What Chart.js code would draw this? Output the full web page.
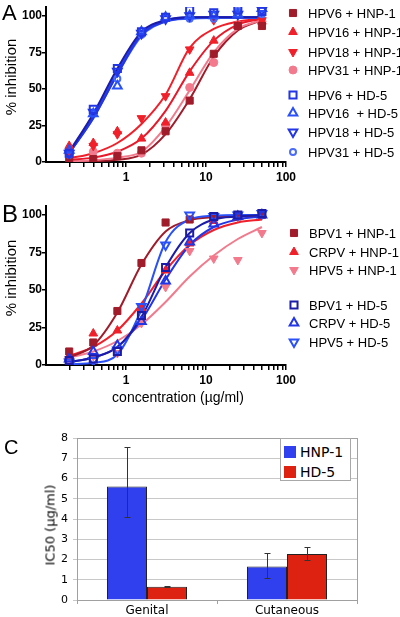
<!DOCTYPE html>
<html>
<head>
<meta charset="utf-8">
<script src="https://cdn.jsdelivr.net/npm/chart.js@4.4.1/dist/chart.umd.min.js"></script>
<style>
body { margin: 0; background: #fff; width: 400px; height: 617px; overflow: hidden; position: relative; font-family: "Liberation Sans", Arial, sans-serif; color: #000; }
canvas.panel { position: absolute; left: 0; }
.letter { position: absolute; line-height: 1; }
.rot { position: absolute; transform: translate(-50%, -50%) rotate(-90deg); white-space: nowrap; line-height: 1; }
.leg { position: absolute; display: flex; align-items: center; white-space: pre; font-size: 13px; line-height: 1; }
</style>
</head>
<body>
<canvas id="chartA" class="panel" width="400" height="195" style="top:0px"></canvas>
<canvas id="chartB" class="panel" width="400" height="215" style="top:195px"></canvas>
<canvas id="chartC" class="panel" width="400" height="197" style="top:420px"></canvas>

<div class="letter" style="left:2px;top:2px;font-size:22px">A</div>
<div class="letter" style="left:2px;top:202px;font-size:24px">B</div>
<div class="letter" style="left:4px;top:437px;font-size:20px">C</div>

<div class="rot" style="left:10px;top:77px;font-size:15px">% inhibition</div>
<div class="rot" style="left:10px;top:278px;font-size:15px">% inhibition</div>
<div class="rot" style="left:50px;top:525px;font-size:13px;font-family:'DejaVu Sans',Verdana,sans-serif">IC50 (µg/ml)</div>
<div style="position:absolute;left:178px;top:397px;transform:translate(-50%,-50%);font-size:14px;line-height:1;white-space:nowrap">concentration (µg/ml)</div>

<script>
// doubling dilutions (µg/ml)
const conc = [0.195, 0.39, 0.78, 1.56, 3.125, 6.25, 12.5, 25, 50];
const xTickVals = [0.2, 0.3, 0.4, 0.5, 0.6, 0.7, 0.8, 0.9, 1, 2, 3, 4, 5, 6, 7, 8, 9, 10, 20, 30, 40, 50, 60, 70, 80, 90, 100];
const xTickLabels = [1, 10, 100];
const yTickVals = [0, 25, 50, 75, 100];

// Panel A - measured % inhibition
const aHpv6Hnp = [1, 2, 4, 8, 21, 42, 74, 93, 93];
const aHpv16Hnp = [11, 13, 21, 16, 27, 61, 83, 93, 96];
const aHpv18Hnp = [4, 11, 19, 30, 45, 77, 97, 94, 97];
const aHpv31Hnp = [6, 7, 6, 6, 25, 51, 68, 94, 96];
const aHpv6Hd = [6, 36, 64, 89, 99, 104, 102, 104, 103];
const aHpv16Hd = [8, 33, 52, 89, 99, 100, 100, 101, 105];
const aHpv18Hd = [6, 34, 62, 88, 98, 100, 101, 101, 104];
const aHpv31Hd = [5, 33, 57, 87, 98, 98, 98, 103, 101];

const aFitHpv6Hnp = [0.2, 0.6, 1.5, 5, 19, 43, 72, 90, 97];
const aFitHpv16Hnp = [1.5, 3, 7, 16, 35, 62, 83, 94, 98];
const aFitHpv18Hnp = [2.5, 6, 13, 26, 46, 78, 91, 96, 98];
const aFitHpv31Hnp = [0.5, 1.2, 3, 7, 24, 49, 75, 91, 97];
const aFitHpv6Hd = [7, 33, 64, 89, 97, 99, 99, 99, 99];
const aFitHpv16Hd = [6, 30, 60, 87, 96, 98.5, 99, 99, 99];
const aFitHpv18Hd = [6, 31, 62, 88, 97, 99, 99, 99, 99];
const aFitHpv31Hd = [6, 30, 60, 86, 96, 98, 98.5, 98.5, 98.5];

// Panel B - measured % inhibition
const bBpv1Hnp = [9, 15, 36, 68, 95, 97, 99, 99, 100];
const bCrpvHnp = [6, 21, 23, 38, 63, 81, 96, 99, 100];
const bHpv5Hnp = [4, 6, 8, 28, 52, 76, 71, 70, 88];
const bBpv1Hd = [3, 4, 9, 33, 65, 88, 99, 100, 101];
const bCrpvHd = [4, 9, 13, 29, 56, 82, 94, 99, 100];
const bHpv5Hd = [2, 3, 10, 39, 80, 100, 99, 100, 101];

// Panel B - fitted curves
const bFitBpv1Hnp = [5, 13, 35, 67, 89, 96.5, 98.5, 99, 99];
const bFitCrpvHnp = [6, 12, 23, 41, 63, 80, 90, 95, 97];
const bFitHpv5Hnp = [5, 9, 16, 27, 42, 59, 73, 84, 92];
const bFitBpv1Hd = [2, 5, 12, 32, 65, 88, 97, 99, 100];
const bFitCrpvHd = [2, 5, 12, 30, 57, 80, 92, 97, 99];
const bFitHpv5Hd = [0.5, 1.5, 7, 37, 82, 97, 99.5, 100, 100];

// Panel C - IC50 (µg/ml)
const cCats = ['Genital', 'Cutaneous'];
const cHnp = [5.6, 1.65];
const cHnpLo = [4.1, 1.1];
const cHnpHi = [7.57, 2.34];
const cHd = [0.65, 2.27];
const cHdLo = [0.62, 1.98];
const cHdHi = [0.68, 2.6];

const sans = '"Liberation Sans", Arial, sans-serif';
const verdana = '"DejaVu Sans", Verdana, sans-serif';

const darkRed = '#a01c2a';
const red = '#f0202a';
const pink = '#f27a8c';
const navy = '#1c1ca8';
const blue = '#2236e6';
const blue2 = '#2a50f8';
const lightBlue = '#4a6cf8';

function pts(ys) {
    return conc.map((x, i) => ({ x: x, y: ys[i] }));
}

function markers(ys, color, style, open, radius, rotation) {
    return {
        data: pts(ys),
        showLine: false,
        pointStyle: style,
        pointRadius: radius,
        pointRotation: rotation || 0,
        pointBackgroundColor: open ? 'rgba(255,255,255,0)' : color,
        pointBorderColor: color,
        pointBorderWidth: open ? 2 : 1
    };
}

function curve(ys, color) {
    return {
        type: 'line',
        data: pts(ys),
        borderColor: color,
        borderWidth: 2,
        pointRadius: 0,
        cubicInterpolationMode: 'monotone',
        fill: false
    };
}

function noPad(s) {
    s.paddingTop = 0; s.paddingBottom = 0; s.paddingLeft = 0; s.paddingRight = 0;
}

function doseScales(xHeight) {
    return {
        x: {
            type: 'logarithmic', min: 0.1, max: 100,
            afterBuildTicks: s => { s.ticks = xTickVals.map(v => ({ value: v })); },
            afterFit: s => { s.height = xHeight; noPad(s); },
            border: { color: '#000', width: 2 },
            grid: { drawOnChartArea: false, color: '#000', lineWidth: 1.5, tickLength: 5 },
            ticks: {
                autoSkip: false, maxRotation: 0, padding: 3, color: '#000',
                font: { family: sans, size: 12, weight: 'bold' },
                callback: v => xTickLabels.includes(v) ? String(v) : ''
            }
        },
        y: {
            min: 0, max: 106,
            afterBuildTicks: s => { s.ticks = yTickVals.map(v => ({ value: v })); },
            afterFit: s => { s.width = 46; noPad(s); },
            border: { color: '#000', width: 2 },
            grid: { drawOnChartArea: false, color: '#000', lineWidth: 1.5, tickLength: 4 },
            ticks: { padding: 0, color: '#000', font: { family: sans, size: 12, weight: 'bold' } }
        }
    };
}

function doseChart(id, markerSets, curveSets, padTop, xHeight) {
    return new Chart(document.getElementById(id), {
        type: 'scatter',
        data: { datasets: markerSets.concat(curveSets) },
        options: {
            responsive: false,
            animation: false,
            devicePixelRatio: 1,
            layout: { padding: { top: padTop, right: 114, left: 0, bottom: 0 } },
            plugins: { legend: { display: false }, tooltip: { enabled: false } },
            scales: doseScales(xHeight)
        }
    });
}

function legendRow(x, cy, label, ds) {
    const row = document.createElement('div');
    row.className = 'leg';
    row.style.left = (x - 7) + 'px';
    row.style.top = (cy - 7) + 'px';
    const c = document.createElement('canvas');
    c.width = 14; c.height = 14;
    const g = c.getContext('2d');
    g.fillStyle = ds.pointBackgroundColor;
    g.strokeStyle = ds.pointBorderColor;
    g.lineWidth = ds.pointBorderWidth;
    if (Chart.helpers && Chart.helpers.drawPoint) {
        Chart.helpers.drawPoint(g, {
            pointStyle: ds.pointStyle, radius: ds.pointRadius,
            rotation: ds.pointRotation, borderWidth: ds.pointBorderWidth
        }, 7, 7);
    }
    row.appendChild(c);
    const t = document.createElement('span');
    t.textContent = label;
    t.style.marginLeft = '8px';
    row.appendChild(t);
    document.body.appendChild(row);
}

// ---- Panel A ----
const aMarkers = [
    markers(aHpv6Hd, blue, 'rect', true, 5),
    markers(aHpv16Hd, blue2, 'triangle', true, 5),
    markers(aHpv18Hd, blue, 'triangle', true, 5, 180),
    markers(aHpv31Hd, lightBlue, 'circle', true, 3),
    markers(aHpv6Hnp, darkRed, 'rect', false, 5),
    markers(aHpv16Hnp, red, 'triangle', false, 5),
    markers(aHpv18Hnp, red, 'triangle', false, 5, 180),
    markers(aHpv31Hnp, pink, 'circle', false, 4)
];
const aCurves = [
    curve(aFitHpv6Hd, navy),
    curve(aFitHpv16Hd, blue),
    curve(aFitHpv18Hd, blue2),
    curve(aFitHpv31Hd, lightBlue),
    curve(aFitHpv18Hnp, red),
    curve(aFitHpv16Hnp, '#e8182a'),
    curve(aFitHpv31Hnp, pink),
    curve(aFitHpv6Hnp, darkRed)
];
doseChart('chartA', aMarkers, aCurves, 3, 33);

const aLegend = ['HPV6 + HNP-1', 'HPV16 + HNP-1', 'HPV18 + HNP-1', 'HPV31 + HNP-1',
    'HPV6 + HD-5', 'HPV16  + HD-5', 'HPV18 + HD-5', 'HPV31 + HD-5'];
const aLegendY = [13, 32, 52, 70, 95, 113, 132, 152];
const aLegendOrder = [4, 5, 6, 7, 0, 1, 2, 3];
aLegend.forEach((label, i) => legendRow(293, aLegendY[i], label, aMarkers[aLegendOrder[i]]));

// ---- Panel B ----
const bMarkers = [
    markers(bBpv1Hd, navy, 'rect', true, 5),
    markers(bCrpvHd, blue, 'triangle', true, 5),
    markers(bHpv5Hd, blue2, 'triangle', true, 5, 180),
    markers(bBpv1Hnp, darkRed, 'rect', false, 5),
    markers(bCrpvHnp, red, 'triangle', false, 5),
    markers(bHpv5Hnp, pink, 'triangle', false, 5, 180)
];
const bCurves = [
    curve(bFitBpv1Hd, navy),
    curve(bFitCrpvHd, blue),
    curve(bFitHpv5Hd, blue2),
    curve(bFitBpv1Hnp, darkRed),
    curve(bFitCrpvHnp, red),
    curve(bFitHpv5Hnp, pink)
];
doseChart('chartB', bMarkers, bCurves, 11, 45);

const bLegend = ['BPV1 + HNP-1', 'CRPV + HNP-1', 'HPV5 + HNP-1', 'BPV1 + HD-5', 'CRPV + HD-5', 'HPV5 + HD-5'];
const bLegendY = [233, 252, 270, 305, 323, 342];
const bLegendOrder = [3, 4, 5, 0, 1, 2];
bLegend.forEach((label, i) => legendRow(294, bLegendY[i], label, bMarkers[bLegendOrder[i]]));

// ---- Panel C ----
const hnpColor = '#3040ee';
const hdColor = '#dd2211';

const errorBars = {
    id: 'errorBars',
    afterDatasetsDraw(chart) {
        const ctx = chart.ctx;
        const y = chart.scales.y;
        const lows = [cHnpLo, cHdLo];
        const highs = [cHnpHi, cHdHi];
        ctx.save();
        ctx.strokeStyle = '#333';
        ctx.lineWidth = 1;
        chart.data.datasets.forEach((ds, d) => {
            chart.getDatasetMeta(d).data.forEach((bar, i) => {
                const x = Math.round(bar.x) + 0.5;
                const top = Math.round(y.getPixelForValue(highs[d][i])) + 0.5;
                const bot = Math.round(y.getPixelForValue(lows[d][i])) + 0.5;
                ctx.beginPath();
                ctx.moveTo(x, top); ctx.lineTo(x, bot);
                ctx.moveTo(x - 3, top); ctx.lineTo(x + 3, top);
                ctx.moveTo(x - 3, bot); ctx.lineTo(x + 3, bot);
                ctx.stroke();
            });
        });
        ctx.restore();
    }
};

const frame = {
    id: 'frame',
    beforeDatasetsDraw(chart) {
        const a = chart.chartArea;
        const ctx = chart.ctx;
        ctx.save();
        ctx.strokeStyle = '#a0a0a0';
        ctx.lineWidth = 1;
        ctx.strokeRect(Math.round(a.left) + 0.5, Math.round(a.top) + 0.5, Math.round(a.right - a.left), Math.round(a.bottom - a.top));
        ctx.restore();
    }
};

new Chart(document.getElementById('chartC'), {
    type: 'bar',
    data: {
        labels: cCats,
        datasets: [
            { label: 'HNP-1', data: cHnp, backgroundColor: hnpColor, borderColor: '#222', borderWidth: 1 },
            { label: 'HD-5', data: cHd, backgroundColor: hdColor, borderColor: '#222', borderWidth: 1 }
        ]
    },
    options: {
        responsive: false,
        animation: false,
        devicePixelRatio: 1,
        layout: { padding: { top: 18, right: 43, left: 0, bottom: 0 } },
        datasets: { bar: { barPercentage: 1, categoryPercentage: 80 / 140 } },
        plugins: { legend: { display: false }, tooltip: { enabled: false } },
        scales: {
            x: {
                afterFit: s => { s.height = 17; noPad(s); },
                border: { color: '#a0a0a0', width: 1 },
                grid: { offset: true, drawOnChartArea: false, color: '#a0a0a0', tickLength: 4 },
                ticks: { padding: 0, color: '#000', font: { family: verdana, size: 12 } }
            },
            y: {
                min: 0, max: 8,
                afterFit: s => { s.width = 77; noPad(s); },
                border: { color: '#a0a0a0', width: 1 },
                grid: { color: '#c8c8c8', tickLength: 4 },
                ticks: { stepSize: 1, padding: 5, color: '#000', font: { family: verdana, size: 11 } }
            }
        }
    },
    plugins: [frame, errorBars]
});

// legend box for panel C
const cLegendBox = document.createElement('div');
cLegendBox.style.cssText = 'position:absolute;left:280px;top:438px;width:69px;height:41px;border:1px solid #a8a8a8;background:#fff;font-family:' + verdana + ';font-size:14px;line-height:1;';
document.body.appendChild(cLegendBox);
[['HNP-1', hnpColor, 13], ['HD-5', hdColor, 33]].forEach(item => {
    const sw = document.createElement('div');
    sw.style.cssText = 'position:absolute;left:3px;width:12px;height:12px;top:' + (item[2] - 6) + 'px;background:' + item[1] + ';';
    cLegendBox.appendChild(sw);
    const tx = document.createElement('div');
    tx.style.cssText = 'position:absolute;left:19px;white-space:nowrap;top:' + (item[2] - 7) + 'px;';
    tx.textContent = item[0];
    cLegendBox.appendChild(tx);
});
</script>
</body>
</html>
